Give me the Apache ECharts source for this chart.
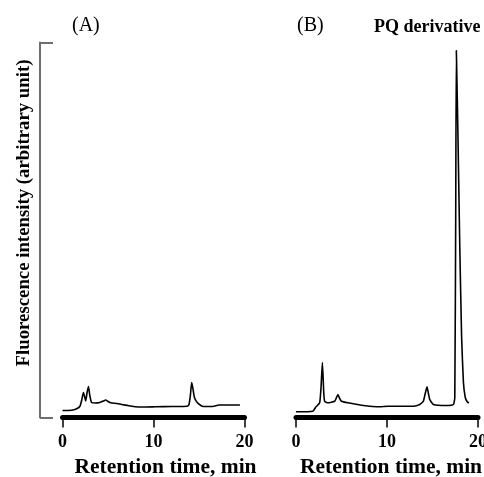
<!DOCTYPE html>
<html>
<head>
<meta charset="utf-8">
<script src="https://cdn.jsdelivr.net/npm/echarts@6/dist/echarts.min.js"></script>
<style>html,body{margin:0;padding:0;background:#fff}#c{width:484px;height:477px}</style>
</head>
<body>
<div id="c"></div>
<script>
// Panel (A) chromatogram: retention time (min) and fluorescence (arbitrary)
const timeA = [0, 1.0, 1.5, 1.9, 2.1, 2.3, 2.45, 2.55, 2.7, 2.85, 3.0, 3.2, 3.6, 4.1, 4.5, 4.75, 5.0, 5.3, 6.0, 6.5, 7.2, 8.0, 9.0, 10.2, 12.0, 13.7, 13.9, 14.05, 14.2, 14.35, 14.5, 14.8, 15.2, 15.5, 16.5, 17.2, 18.5, 19.5];
const intA  = [7, 7.3, 8.5, 11, 17, 25, 20, 16.5, 25, 31, 22, 15, 14.5, 15, 16.5, 17.5, 16, 14.7, 14, 13, 12, 10.7, 10.5, 10.7, 11, 11.3, 13, 22, 35, 28, 20, 15, 12, 11, 11, 12.5, 12.5, 12.5];
// Panel (B) chromatogram
const timeB = [0, 1.85, 2.2, 2.6, 2.75, 2.9, 3.05, 3.15, 3.5, 4.25, 4.45, 4.6, 4.8, 5.0, 5.7, 7.2, 9.2, 10.1, 12.9, 13.6, 14.0, 14.2, 14.4, 14.55, 14.7, 15.1, 16.5, 17.3, 17.45, 17.55, 17.62, 17.8, 18.0, 18.2, 18.4, 18.6, 18.8, 19.0];
const intB  = [5.7, 6.3, 10.7, 14.7, 30, 55, 25, 16.3, 14.7, 16.3, 20, 23, 19, 16.3, 14.7, 12.3, 10.7, 11.3, 11.3, 13, 16.3, 24, 30.7, 24, 18, 13, 12, 13, 20, 200, 367, 280, 170, 80, 35, 20, 16, 14.5];
const xTicks = [0, 10, 20];
const panelLabels = ['(A)', '(B)'];
const compoundLabel = 'PQ derivative';
const xName = 'Retention time, min';
const yName = 'Fluorescence intensity (arbitrary unit)';

const serif = 'Liberation Serif';
const pairs = (t, v) => t.map((x, i) => [x, v[i]]);

const xAxisCommon = (gi, padLeft) => ({
  type: 'value', gridIndex: gi, min: 0, max: 20, interval: 10,
  axisLine: {show: true, onZero: false, lineStyle: {color: '#000', width: 5}},
  axisTick: {show: true, length: 10, lineStyle: {color: '#000', width: 1.5}},
  axisLabel: {show: true, margin: 16, color: '#000', fontFamily: serif, fontWeight: 'bold', fontSize: 18,
    formatter: v => xTicks.includes(v) ? String(v) : ''},
  splitLine: {show: false},
  name: xName, nameLocation: 'middle', nameGap: 36,
  nameTextStyle: {color: '#000', fontFamily: serif, fontWeight: 'bold', fontSize: 21.5, padding: [0, 0, 0, padLeft]}
});

const option = {
  animation: false,
  backgroundColor: '#fff',
  title: [
    {text: panelLabels[0], left: 67, top: 11, textStyle: {fontFamily: serif, fontWeight: 'normal', fontSize: 20, color: '#000'}},
    {text: panelLabels[1], left: 292, top: 11, textStyle: {fontFamily: serif, fontWeight: 'normal', fontSize: 20, color: '#000'}},
    {text: compoundLabel, left: 369, top: 13, textStyle: {fontFamily: serif, fontWeight: 'bold', fontSize: 18, color: '#000'}}
  ],
  grid: [
    {left: 62.5, width: 182, top: 42.5, height: 375, containLabel: false, outerBoundsMode: 'none'},
    {left: 296, width: 182, top: 42.5, height: 375, containLabel: false, outerBoundsMode: 'none'}
  ],
  xAxis: [xAxisCommon(0, 24), xAxisCommon(1, 8)],
  yAxis: [
    {type: 'value', gridIndex: 0, min: 0, max: 375, interval: 375, offset: 22.5,
      axisLine: {show: true, onZero: false, lineStyle: {color: '#6e6e6e', width: 2}},
      axisTick: {show: true, inside: true, length: 13, lineStyle: {color: '#6e6e6e', width: 2}},
      axisLabel: {show: false}, splitLine: {show: false},
      name: yName, nameLocation: 'middle', nameGap: 6,
      nameTextStyle: {color: '#000', fontFamily: serif, fontWeight: 'bold', fontSize: 18.8, padding: [0, 0, 0, 34]}
    },
    {type: 'value', gridIndex: 1, min: 0, max: 375, show: false}
  ],
  series: [
    {type: 'line', xAxisIndex: 0, yAxisIndex: 0, data: pairs(timeA, intA), showSymbol: false, smooth: 0.2,
      lineStyle: {color: '#000', width: 1.6}},
    {type: 'line', xAxisIndex: 1, yAxisIndex: 1, data: pairs(timeB, intB), showSymbol: false, smooth: 0.15,
      lineStyle: {color: '#000', width: 1.6}}
  ]
};
const chart = echarts.init(document.getElementById('c'), null, {renderer: 'canvas'});
chart.setOption(option);
</script>
</body>
</html>
